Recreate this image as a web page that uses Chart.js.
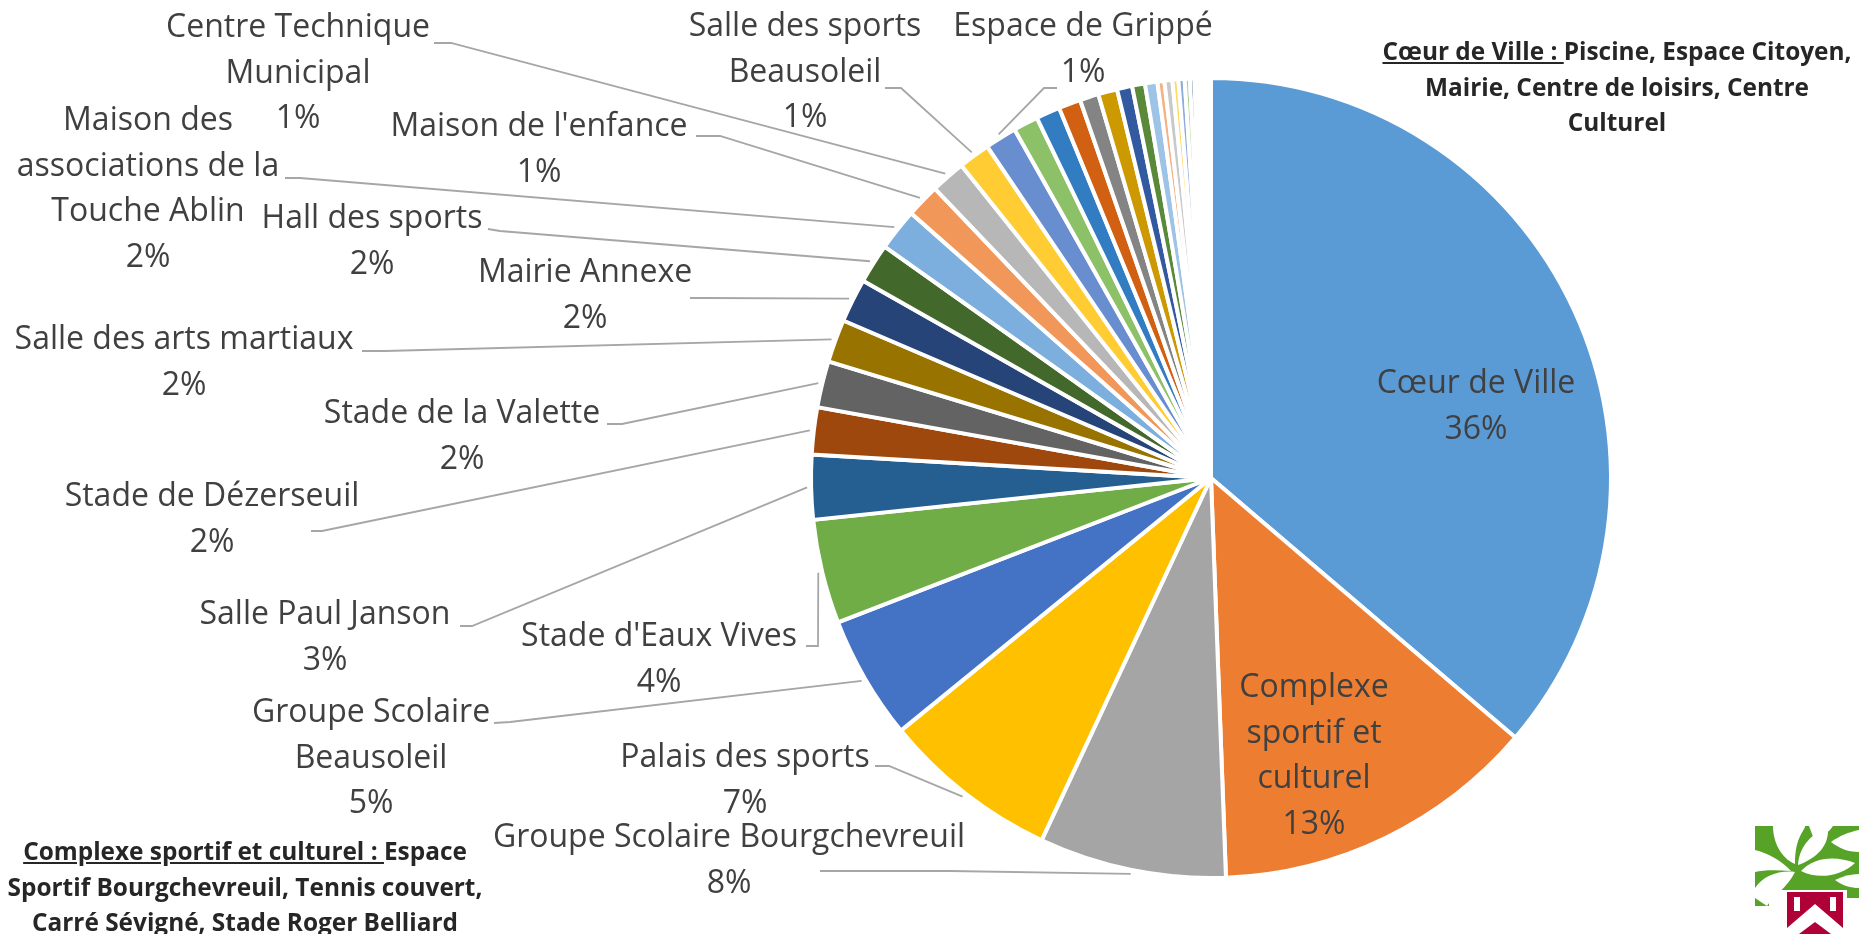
<!DOCTYPE html>
<html lang="fr">
<head>
<meta charset="utf-8">
<title>Répartition par bâtiment</title>
<script src="https://cdn.jsdelivr.net/npm/chart.js@4"></script>
<style>
    html, body { margin: 0; padding: 0; background: #fff; overflow: hidden; }
    #wrap { position: relative; width: 1859px; height: 934px; overflow: hidden; }
    canvas { position: absolute; left: 0; top: 0; }
    .note { position: absolute; font: bold 24.4px/35.5px "Open Sans", sans-serif; color: #262626; text-align: center; white-space: nowrap; }
    #logo { position: absolute; left: 1755px; top: 826px; }
</style>
</head>
<body>
<div id="wrap">
    <canvas id="chart" width="1859" height="934"></canvas>
    <div class="note" style="left:1360px;width:514px;top:33px"><u>Cœur de Ville : </u>Piscine, Espace Citoyen,<br>Mairie, Centre de loisirs, Centre<br>Culturel</div>
    <div class="note" style="left:-10px;width:510px;top:833px"><u>Complexe sportif et culturel : </u>Espace<br>Sportif Bourgchevreuil, Tennis couvert,<br>Carré Sévigné, Stade Roger Belliard</div>
    <svg id="logo" width="104" height="108" viewBox="0 0 104 108">
        <rect x="0" y="0" width="104" height="80" fill="#57a327"/>
        <g fill="#fff">
            <path d="M18 0 L50 0 C50 5 40 10 40 38 C26 32 18 16 18 0 Z"/>
            <path d="M0 0 L24 26 L0 8 Z" fill="#57a327"/>
            <path d="M43 39 C44 20 58 6 73 2 C74 20 62 32 43 39 Z"/>
            <path d="M46 45 C60 30 82 30 100 37 C86 50 64 54 46 45 Z"/>
            <path d="M0 24 C12 27 26 34 36 45 C22 44 8 44 0 46 Z"/>
            <path d="M0 62 C8 50 24 44 40 46 C32 62 18 70 12 80 L0 72 Z"/>
            <path d="M76 16 C84 10 94 6 104 4 L104 26 C92 26 84 22 76 16 Z"/>
            <path d="M54 0 L78 0 C74 6 70 8 60 16 Z"/>
            <path d="M80 54 C88 50 96 48 104 48 L104 62 C96 62 88 60 80 54 Z"/>
            <rect x="14" y="64" width="78" height="16"/>
            <rect x="92" y="72" width="12" height="8"/>
        </g>
        <path d="M32 66 L88 66 L88 102 L60 78 L32 102 Z" fill="#b00038"/>
        <rect x="39" y="71" width="6" height="14" fill="#fff"/>
        <rect x="75" y="71" width="6" height="14" fill="#fff"/>
        <path d="M44 108 L60 96 L76 108 Z" fill="#b00038"/>
    </svg>
</div>
<script>
    const categories = [
        'Cœur de Ville', 'Complexe sportif et culturel', 'Groupe Scolaire Bourgchevreuil', 'Palais des sports',
        'Groupe Scolaire Beausoleil', "Stade d'Eaux Vives", 'Salle Paul Janson', 'Stade de Dézerseuil',
        'Stade de la Valette', 'Salle des arts martiaux', 'Mairie Annexe', 'Hall des sports',
        'Maison des associations de la Touche Ablin', "Maison de l'enfance", 'Centre Technique Municipal',
        'Salle des sports Beausoleil', 'Espace de Grippé',
        '', '', '', '', '', '', '', '', '', '', '', '', '', '', '', '', '', '', '', ''
    ];

    const values = [
        36.2, 13.15, 7.55, 7.15, 5.0, 4.2, 2.6, 1.9, 1.87, 1.73, 1.77, 1.6, 1.7, 1.36, 1.4, 1.27, 1.28,
        1.0, 0.97, 0.89, 0.76, 0.77, 0.61, 0.52, 0.5, 0.28, 0.32, 0.24, 0.25, 0.21, 0.18,
        0.11, 0.11, 0.11, 0.11, 0.11, 0.11
    ];

    const colors = [
        '#5B9BD5', '#ED7D31', '#A5A5A5', '#FFC000', '#4472C4', '#70AD47', '#255E91', '#9E480E', '#636363',
        '#997300', '#264478', '#43682B', '#7CAFDD', '#F1975A', '#B7B7B7', '#FFCD33', '#698ED0', '#8CC168',
        '#327DC2', '#D26012', '#848484', '#CC9A00', '#335AA1', '#5A8A39', '#9DC3E6', '#F4B183', '#C9C9C9',
        '#FFD966', '#8FAADC', '#A9D18E', '#2F5597', '#C55A11', '#7B7B7B', '#BF9000', '#2F5597', '#548235', '#BDD7EE'
    ];

    // where each label sits: index in categories, wrapped lines, centre x, first line y, leader start + elbow
    const labelSpots = [
        { i: 0, lines: ['Cœur de Ville'], x: 1476, y: 384 },
        { i: 1, lines: ['Complexe', 'sportif et', 'culturel'], x: 1314, y: 688 },
        { i: 2, lines: ['Groupe Scolaire Bourgchevreuil'], x: 729, y: 838, from: [820, 871], elbow: [950, 871] },
        { i: 3, lines: ['Palais des sports'], x: 745, y: 758, from: [875, 766], elbow: [889, 766] },
        { i: 4, lines: ['Groupe Scolaire', 'Beausoleil'], x: 371, y: 713, from: [494, 723], elbow: [510, 722] },
        { i: 5, lines: ["Stade d'Eaux Vives"], x: 659, y: 637, from: [806, 646], elbow: [818, 646] },
        { i: 6, lines: ['Salle Paul Janson'], x: 325, y: 615, from: [460, 626], elbow: [472, 626] },
        { i: 7, lines: ['Stade de Dézerseuil'], x: 212, y: 497, from: [311, 531], elbow: [322, 531] },
        { i: 8, lines: ['Stade de la Valette'], x: 462, y: 414, from: [607, 424], elbow: [622, 424] },
        { i: 9, lines: ['Salle des arts martiaux'], x: 184, y: 340, from: [362, 351], elbow: [385, 351] },
        { i: 10, lines: ['Mairie Annexe'], x: 585, y: 273, from: [690, 298], elbow: [705, 298] },
        { i: 11, lines: ['Hall des sports'], x: 372, y: 219, from: [488, 229], elbow: [500, 231] },
        { i: 12, lines: ['Maison des', 'associations de la', 'Touche Ablin'], x: 148, y: 121, from: [285, 178], elbow: [300, 178] },
        { i: 13, lines: ["Maison de l'enfance"], x: 539, y: 127, from: [696, 136], elbow: [720, 136] },
        { i: 14, lines: ['Centre Technique', 'Municipal'], x: 298, y: 28, from: [434, 43], elbow: [451, 43] },
        { i: 15, lines: ['Salle des sports', 'Beausoleil'], x: 805, y: 27, from: [885, 88], elbow: [901, 88] },
        { i: 16, lines: ['Espace de Grippé'], x: 1083, y: 27, from: [1057, 88], elbow: [1044, 88] }
    ];

    const total = values.reduce((a, b) => a + b, 0);

    const outsideLabels = {
        id: 'outsideLabels',
        afterDatasetsDraw(chart) {
            const ctx = chart.ctx;
            const arcs = chart.getDatasetMeta(0).data;
            ctx.save();
            labelSpots.forEach(s => {
                const arc = arcs[s.i].getProps(['x', 'y', 'startAngle', 'endAngle', 'outerRadius']);
                if (s.from) {
                    const mid = (arc.startAngle + arc.endAngle) / 2;
                    const r = arc.outerRadius + 4;
                    ctx.beginPath();
                    ctx.moveTo(s.from[0], s.from[1]);
                    ctx.lineTo(s.elbow[0], s.elbow[1]);
                    ctx.lineTo(arc.x + Math.cos(mid) * r, arc.y + Math.sin(mid) * r);
                    ctx.strokeStyle = '#a6a6a6';
                    ctx.lineWidth = 1.8;
                    ctx.stroke();
                }
                ctx.fillStyle = '#404040';
                ctx.font = '32px "Open Sans", sans-serif';
                ctx.textAlign = 'center';
                ctx.textBaseline = 'middle';
                const pct = Math.round(values[s.i] / total * 100) + '%';
                s.lines.concat(pct).forEach((line, n) => {
                    ctx.fillText(line, s.x, s.y + n * 45.6);
                });
            });
            ctx.restore();
        }
    };

    new Chart(document.getElementById('chart'), {
        type: 'pie',
        data: {
            labels: categories,
            datasets: [{
                data: values,
                backgroundColor: colors,
                borderColor: '#fff',
                borderWidth: 4
            }]
        },
        options: {
            responsive: false,
            animation: false,
            layout: { padding: { left: 809, right: 246, top: 76, bottom: 54 } },
            plugins: { legend: { display: false }, tooltip: { enabled: false } }
        },
        plugins: [outsideLabels]
    });
</script>
</body>
</html>
